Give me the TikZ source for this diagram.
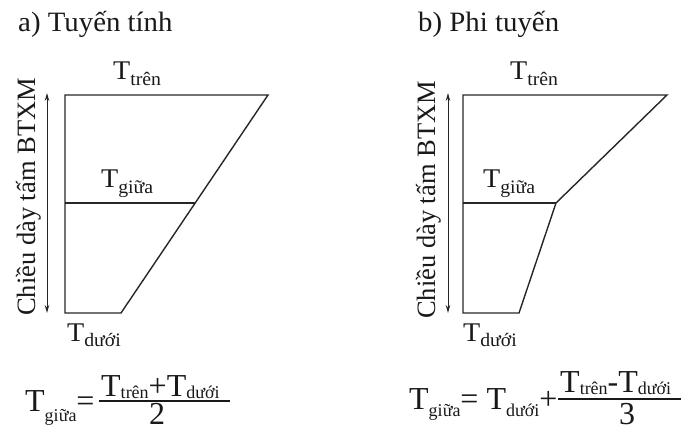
\documentclass[tikz,border=0pt]{standalone}
\usepackage{fontspec}
\setmainfont{Liberation Serif}
\usetikzlibrary{arrows.meta}
\newcommand\lo[3]{\raisebox{-#1}{\fontsize{#2}{#2}\selectfont #3}}
\begin{document}
\begin{tikzpicture}[x=1pt,y=-1pt,
  ttl/.style={inner sep=0pt, font=\fontsize{28}{32}\selectfont, text=black!90, xscale=1.03},
  txt/.style={inner sep=0pt, font=\fontsize{27}{30}\selectfont, text=black!90, xscale=1.04},
  vtxt/.style={inner sep=0pt, font=\fontsize{26.5}{30}\selectfont, text=black!90, rotate=90},
  ftxt/.style={inner sep=0pt, font=\fontsize{32}{36}\selectfont, text=black!90},
  outline/.style={draw=black!85, line width=1.4pt, line join=miter},
  dim/.style={draw=black!85, line width=1pt, {Stealth[length=8pt,width=4.5pt]}-{Stealth[length=8pt,width=4.5pt]}},
  bar/.style={draw=black!90, line width=1.4pt}]
\useasboundingbox (0,0) rectangle (681,430);

% ---------- a) linear ----------
\node[ttl, anchor=base west] (ta) at (18,32) {a) Tuyến tính};
\coordinate (aTL) at (65,95);
\coordinate (aTR) at (268,95);
\coordinate (aML) at (65,203);
\coordinate (aMR) at (195,203);
\coordinate (aBL) at (65,313);
\coordinate (aBR) at (121,313);
\draw[outline] (aTR) -- (aTL) -- (aBL) -- (aBR) -- cycle;
\draw[outline] (aML) -- (aMR);
\coordinate (aAt) at (47,93);
\coordinate (aAb) at (47,313);
\draw[dim] (aAt) -- (aAb);
\node[vtxt, anchor=base] (ava) at (35,197) {Chiều dày tấm BTXM};
\node[txt, anchor=base west] (aTtren) at (113,80) {T\lo{6pt}{19}{trên}};
\node[txt, anchor=base west] (aTgiua) at (101,188) {T\lo{6pt}{19}{giữa}};
\node[txt, anchor=base west] (aTduoi) at (67,342) {T\lo{5pt}{19}{dưới}};

% formula a
\node[ftxt, anchor=base west] (fa) at (25,412) {T\lo{10pt}{18}{giữa}=};
\node[ftxt, anchor=base west] (fan) at (101,397) {T\lo{2pt}{18}{trên}+T\lo{2pt}{18}{dưới}};
\coordinate (fab1) at (99,401);
\coordinate (fab2) at (230,401);
\draw[bar] (fab1) -- (fab2);
\node[ftxt, anchor=base] (fad) at (157,425) {2};

% ---------- b) nonlinear ----------
\node[ttl, anchor=base west] (tb) at (418,32) {b) Phi tuyến};
\coordinate (bTL) at (463,95);
\coordinate (bTR) at (667,95);
\coordinate (bK) at (556,203);
\coordinate (bML) at (463,203);
\coordinate (bBL) at (463,313);
\coordinate (bBR) at (519,313);
\draw[outline] (bTR) -- (bTL) -- (bBL) -- (bBR) -- (bK) -- cycle;
\draw[outline] (bML) -- (bK);
\coordinate (bAt) at (448,93);
\coordinate (bAb) at (448,313);
\draw[dim] (bAt) -- (bAb);
\node[vtxt, anchor=base] (bva) at (435,200) {Chiều dày tấm BTXM};
\node[txt, anchor=base west] (bTtren) at (510,80) {T\lo{6pt}{19}{trên}};
\node[txt, anchor=base west] (bTgiua) at (483,188) {T\lo{6pt}{19}{giữa}};
\node[txt, anchor=base west] (bTduoi) at (463,342) {T\lo{5pt}{19}{dưới}};

% formula b
\node[ftxt, anchor=base west] (fb) at (409,410) {T\lo{7pt}{18}{giữa}= T\lo{7pt}{18}{dưới}+};
\node[ftxt, anchor=base west] (fbn) at (560,393) {T\lo{2pt}{18}{trên}-T\lo{2pt}{18}{dưới}};
\coordinate (fbb1) at (558,399);
\coordinate (fbb2) at (681,399);
\draw[bar] (fbb1) -- (fbb2);
\node[ftxt, anchor=base] (fbd) at (627,425) {3};
\end{tikzpicture}
\end{document}
